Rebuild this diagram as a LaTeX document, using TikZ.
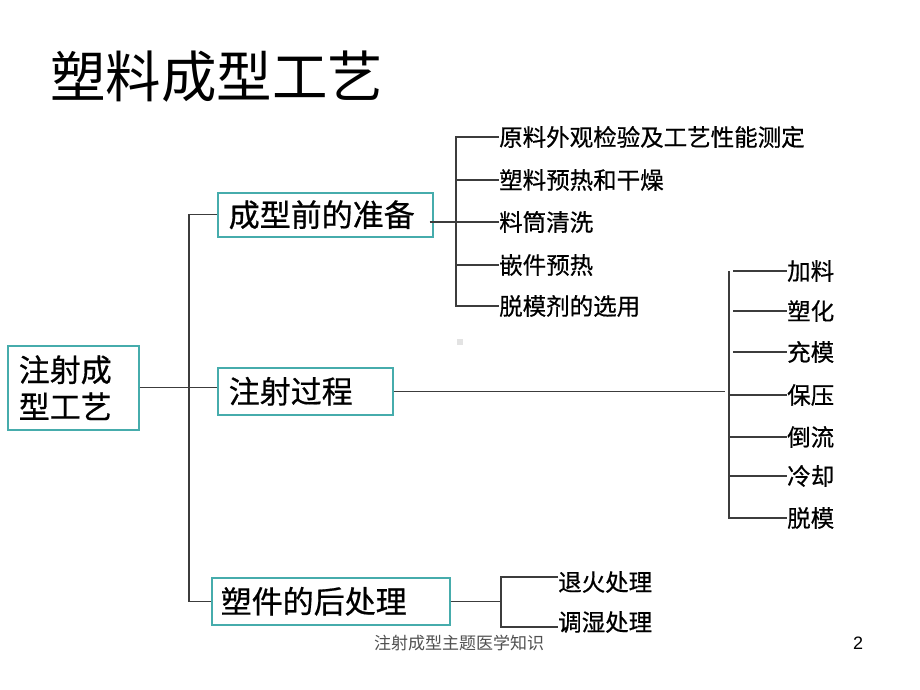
\documentclass[tikz,border=0pt]{standalone}
\usepackage{fontspec}
\setmainfont{Noto Sans CJK SC}
\newfontfamily\itemfont{Noto Sans CJK SC}[FakeBold=0.6]
\newfontfamily\latinsans{Liberation Sans}
\usetikzlibrary{calc}
\definecolor{boxteal}{RGB}{70,172,172}
\definecolor{linegray}{RGB}{60,60,60}
\definecolor{footgray}{RGB}{80,80,80}
\tikzset{
  box/.style={draw=boxteal, line width=1.5pt, anchor=north west, inner xsep=11pt, inner ysep=0pt, align=left, font=\itemfont\fontsize{31}{37}\selectfont},
  item/.style={anchor=west, inner sep=0pt, font=\itemfont\fontsize{23.5}{26}\selectfont},
  conn/.style={draw=linegray, line width=1.3pt},
}
\begin{document}
\begin{tikzpicture}[x=1pt,y=-1pt]
\useasboundingbox (0,0) rectangle (920,690);
% title
\node[anchor=west, inner sep=0pt, font=\fontsize{55.5}{60}\selectfont] (title) at (50,77) {塑料成型工艺};
% boxes
\node[box, text width=109pt, minimum height=84pt] (root) at (7,345) {注射成\\型工艺};
\node[box, text width=193pt, minimum height=44pt] (b1) at (217,192) {成型前的准备};
\node[box, text width=153pt, minimum height=47pt] (b2) at (217,367) {注射过程};
\node[box, text width=220pt, minimum height=47pt, inner xsep=9pt] (b3) at (211,577) {塑件的后处理};
% preparation items
\node[item] (a1) at (499,137) {原料外观检验及工艺性能测定};
\node[item] (a2) at (499,180) {塑料预热和干燥};
\node[item] (a3) at (499,222) {料筒清洗};
\node[item] (a4) at (499,265) {嵌件预热};
\node[item] (a5) at (499,306) {脱模剂的选用};
% process items
\node[item] (c1) at (787,271) {加料};
\node[item] (c2) at (787,311) {塑化};
\node[item] (c3) at (787,352) {充模};
\node[item] (c4) at (787,395) {保压};
\node[item] (c5) at (787,437) {倒流};
\node[item] (c6) at (787,476) {冷却};
\node[item] (c7) at (787,518) {脱模};
% post items
\node[item] (p1) at (558,582) {退火处理};
\node[item] (p2) at (558,622) {调湿处理};
% trunk
\coordinate (tk) at (189,0);
\draw[conn] (b1.west) -| (tk |- b3.west) -- (b3.west);
\draw[conn] (root.east) -- (root.east -| b2.west);
% bracket 1
\coordinate (k1) at (456,0);
\draw[conn] ($(b1.east |- a3.west)+(-4,0)$) -- (a3.west);
\draw[conn] (a1.west) -| (k1 |- a5.west) -- (a5.west);
\draw[conn] (k1 |- a2.west) -- (a2.west);
\draw[conn] (k1 |- a4.west) -- (a4.west);
% bracket 2
\coordinate (k2) at (729,0);
\draw[conn] (b2.east) -- ($(k2 |- b2.east)+(-4,0)$);
\draw[conn] (k2 |- c1.west) -- (k2 |- c7.west) -- (c7.west);
\draw[conn] ($(k2 |- c1.west)+(4,0)$) -- (c1.west);
\draw[conn] ($(k2 |- c2.west)+(4,0)$) -- (c2.west);
\draw[conn] ($(k2 |- c3.west)+(4,0)$) -- (c3.west);
\draw[conn] (k2 |- c4.west) -- (c4.west);
\draw[conn] (k2 |- c5.west) -- (c5.west);
\draw[conn] (k2 |- c6.west) -- (c6.west);
% bracket 3
\coordinate (k3) at (501,0);
\coordinate (p1l) at ([yshift=5pt]p1.west);
\coordinate (p2l) at ([yshift=-5pt]p2.west);
\draw[conn] (b3.east) -- (k3 |- b3.east);
\draw[conn] (p1l) -| (k3 |- p2l) -- (p2l);
% small mark
\fill[gray!22] (457,339) rectangle (463,345);
% footer
\node[inner sep=0pt, text=footgray, font=\fontsize{17}{20}\selectfont] (foot) at (459,643) {注射成型主题医学知识};
\node[inner sep=0pt, font=\latinsans\fontsize{18}{20}\selectfont] (pg) at (858,643) {2};
\end{tikzpicture}
\end{document}
